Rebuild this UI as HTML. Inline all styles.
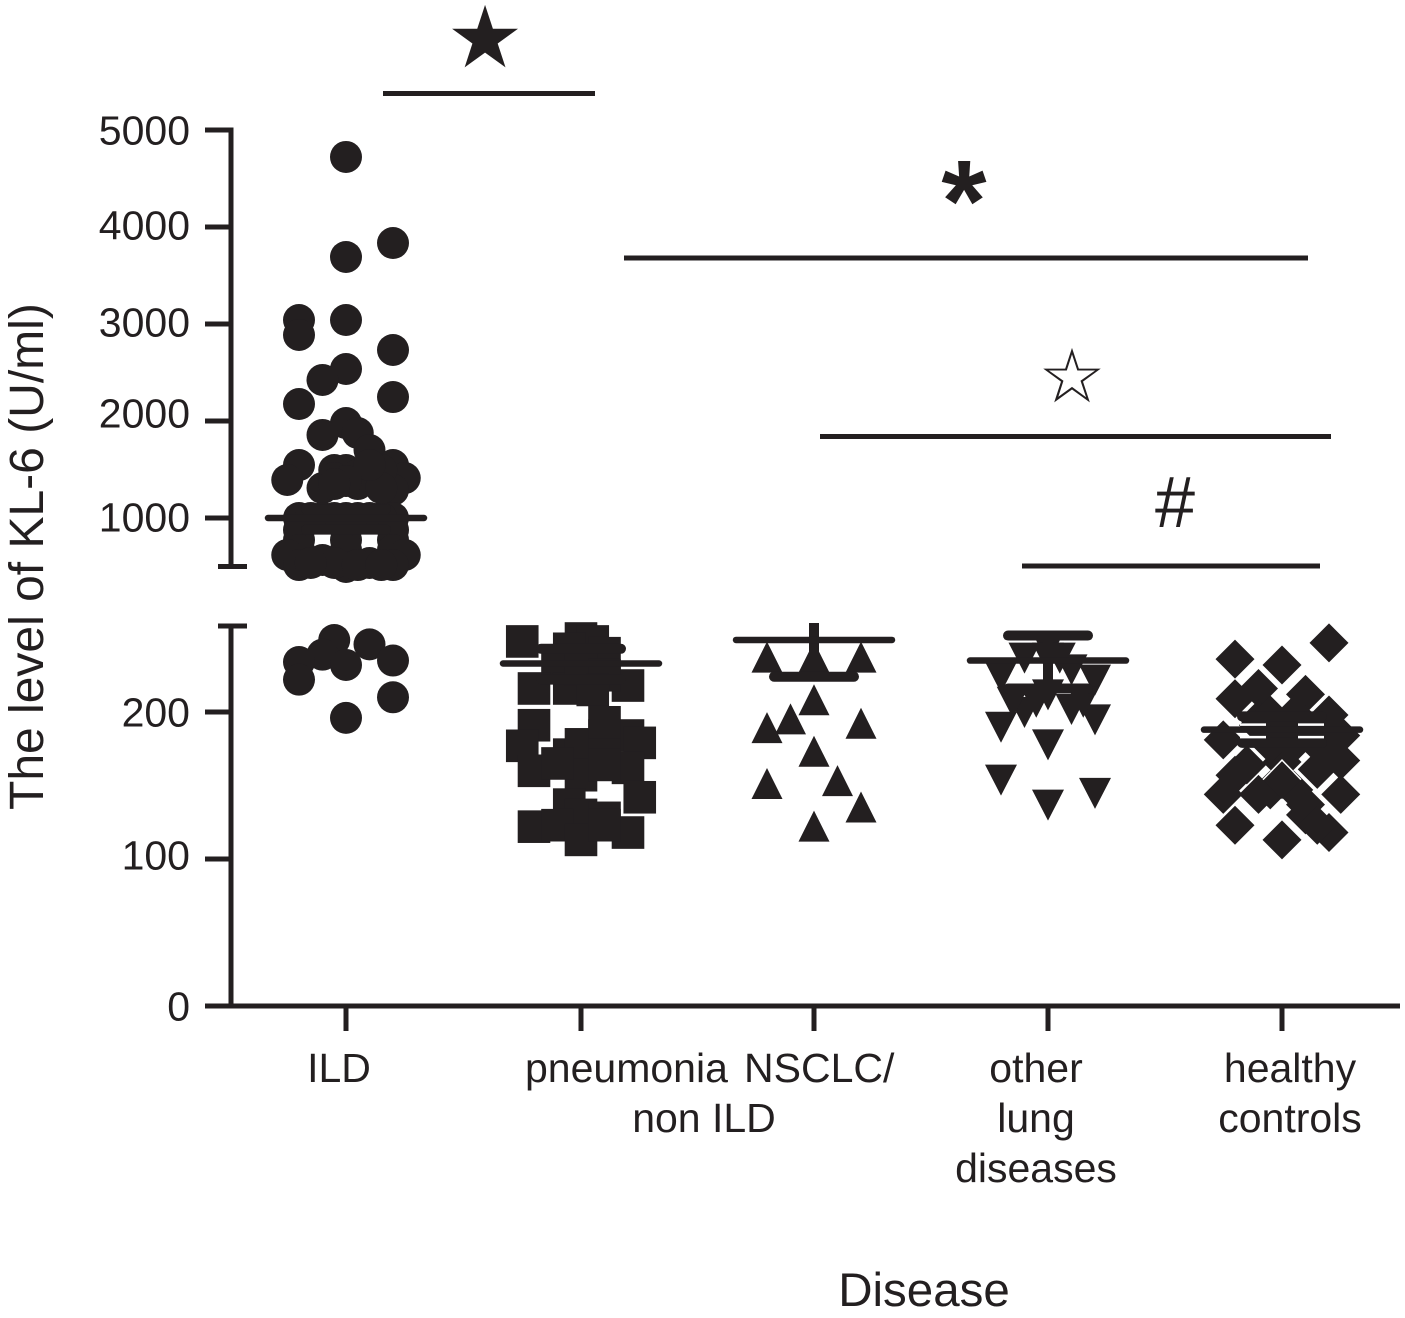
<!DOCTYPE html>
<html lang="en">
<head>
<meta charset="utf-8">
<title>KL-6 level by disease</title>
<style>
html,body{margin:0;padding:0;background:#fff;}
svg{display:block;}
text{font-family:"Liberation Sans",sans-serif;fill:#231f20;}
</style>
</head>
<body>
<svg id="chart" xmlns="http://www.w3.org/2000/svg" width="1405" height="1318" viewBox="0 0 1405 1318">
  <rect width="1405" height="1318" fill="#ffffff"/>
  <g id="axes"></g>
  <g id="marks"></g>
  <g id="summary"></g>

  <text transform="translate(43,810) rotate(-90)" font-size="48">The level of KL-6 (U/ml)</text>
  <text x="924" y="1306" font-size="47.5" text-anchor="middle">Disease</text>

  <text x="339" y="1082" font-size="41" text-anchor="middle">ILD</text>
  <text x="525" y="1082" font-size="41">pneumonia</text>
  <text x="744" y="1082" font-size="41">NSCLC/</text>
  <text x="704" y="1132" font-size="41" text-anchor="middle">non ILD</text>
  <text font-size="41" text-anchor="middle"><tspan x="1036" y="1082">other</tspan><tspan x="1036" y="1132">lung</tspan><tspan x="1036" y="1182">diseases</tspan></text>
  <text font-size="41" text-anchor="middle"><tspan x="1290" y="1082">healthy</tspan><tspan x="1290" y="1132">controls</tspan></text>

  <line x1="383" x2="595" y1="93.5" y2="93.5" stroke="#231f20" stroke-width="5"/>
  <line x1="624" x2="1308" y1="258" y2="258" stroke="#231f20" stroke-width="5"/>
  <line x1="820" x2="1331" y1="436.5" y2="436.5" stroke="#231f20" stroke-width="5"/>
  <line x1="1022" x2="1320" y1="566" y2="566" stroke="#231f20" stroke-width="5"/>

  <text x="485" y="67" font-size="86" text-anchor="middle" style="font-family:'DejaVu Sans',sans-serif">★</text>
  <text x="964" y="241" font-size="116" font-weight="bold" text-anchor="middle">*</text>
  <text x="1072" y="402" font-size="75" text-anchor="middle" style="font-family:'DejaVu Sans',sans-serif">☆</text>
  <text x="1175" y="527" font-size="72" text-anchor="middle">#</text>
</svg>
<script>
// ---- chart data ----
const categories = ["ILD", "pneumonia", "NSCLC/non ILD", "other lung diseases", "healthy controls"];
const yTickValues = [0, 100, 200, 1000, 2000, 3000, 4000, 5000];
const yTickLabels = ["0", "100", "200", "1000", "2000", "3000", "4000", "5000"];

const ildValues = [4722,3835,3691,3041,3041,2887,2732,2536,2423,2247,2175,1979,1856,1876,1701,1546,1392,1495,1546,1412,1309,1392,1495,1289,1443,1000,1000,1000,1000,1000,1000,1000,1000,1000,773,773,773,876,876,876,670,670,670,619,619,515,515,567,495,536,536,515,536,515,1412,1350,1495,1309,1546,1381,1350,249,246,239,234,235,232,222,210,196];
const ildSlots  = [0,4,0,-4,0,-4,4,0,-2,4,-4,0,-2,1,2,-4,-5,0,4,5,-2,2,-1,4,1,-4,-2,0,2,4,-1,1,-3,3,-4,0,4,-4,4,0,-4,0,4,-5,5,-4,4,-2,0,2,-1,1,-3,3,-1,1,3,3,2,0,-1,-1,2,-2,-4,4,0,-4,4,0];

const pneumoniaValues = [248,250,248,243,240,230,218,216,216,229,225,215,191,177,160,171,178,184,184,179,162,157,165,142,137,130,128,122,123,118,113,123,171,193,164];
const pneumoniaSlots  = [-5,0,1,-1,2,-2,4,-4,-1,0,2,1,-4,-5,-4,-1,0,2,4,5,4,0,-2,5,-1,0,2,-4,-2,4,0,2,2,2,2];

const nsclcValues = [237,237,237,208,195,189,192,173,151,153,135,122];
const nsclcSlots  = [-4,0,4,0,-2,-4,4,0,-4,2,4,0];

const otherValues = [224,237,244,229,222,200,207,212,202,195,190,178,154,137,145,237,237,207,207];
const otherSlots  = [-4,-2,0,2,4,-2,-1,0,2,4,-4,0,-4,0,4,1,0,-3,3];

const healthyValues = [247,236,232,216,209,212,198,184,181,191,191,181,167,164,157,144,166,147,144,147,137,171,144,130,118,123,113,123,195,178,198,198,178,178,161,154];
const healthySlots  = [4,-4,0,-2,-4,2,4,5,-5,-2,2,0,5,-3,-4,-5,0,-1,-2,1,2,4,5,2,4,-4,0,3,-2,3,-1,1,-1,1,3,0];

const meanValues = [1000, 233, 249, 235, 188];
const upperValues = [1090, 243, 262, 252, 197];
const lowerValues = [880, 222, 224, 216, 179];
</script>
<script>
// ---- axis functions ----
const INK = "#231f20";
const SVGNS = "http://www.w3.org/2000/svg";
const centers = [346, 581, 814, 1048, 1282];
const slotStep = 11.75;
const breakValue = 258;
const breakTopY = 623;

function yScale(v) {
  if (v <= breakValue) return 1006 - v * 1.47;
  if (v < 400) return breakTopY;
  return 518 - (v - 1000) * 0.097;
}
function xScale(catIndex, slot) {
  return centers[catIndex] + slot * slotStep;
}
function make(tag, attrs, parent) {
  const el = document.createElementNS(SVGNS, tag);
  for (const k in attrs) el.setAttribute(k, attrs[k]);
  parent.appendChild(el);
  return el;
}

// ---- axes ----
const axes = document.getElementById("axes");
const axisStyle = {stroke: INK, "stroke-width": 5};

const yUpper = make("line", Object.assign({x1: 231, x2: 231, y1: yScale(5000) - 2.5, y2: yScale(500) + 2.5}, axisStyle), axes);



const yLower = make("line", Object.assign({x1: 231, x2: 231, y1: 624, y2: yScale(0)}, axisStyle), axes);



const xAxis = make("line", Object.assign({x1: 205, x2: 1400, y1: yScale(0), y2: yScale(0)}, axisStyle), axes);



const breakLow = make("line", Object.assign({x1: 218, x2: 247, y1: yScale(500), y2: yScale(500)}, axisStyle), axes);



const breakHigh = make("line", Object.assign({x1: 218, x2: 247, y1: 626, y2: 626}, axisStyle), axes);



const tickLabelNudge = {100: -4, 2000: -8, 3000: -2, 4000: -2, 1000: -1};
yTickValues.forEach(function (v, i) {
  const y = yScale(v);
  const tick = make("line", Object.assign({x1: 205, x2: 231, y1: y, y2: y}, axisStyle), axes);
  
  
  const label = make("text", {x: 190, y: y + 14.5 + (tickLabelNudge[v] || 0), "font-size": 41, "text-anchor": "end"}, axes);
  label.textContent = yTickLabels[i];
  
  
});

categories.forEach(function (c, i) {
  const x = xScale(i, 0);
  const tick = make("line", Object.assign({x1: x, x2: x, y1: 1006, y2: 1031}, axisStyle), axes);
  
  
});

// ---- marks ----
const marks = document.getElementById("marks");
function drawCircle(x, y) { return make("circle", {cx: x, cy: y, r: 16, fill: INK}, marks); }
function drawSquare(x, y) { return make("rect", {x: x - 16.3, y: y - 16.3, width: 32.6, height: 32.6, fill: INK}, marks); }
function poly(points) { return make("polygon", {points: points.map(function (p) { return p.join(","); }).join(" "), fill: INK}, marks); }
function drawUp(x, y) { return poly([[x, y - 16], [x + 15.5, y + 15], [x - 15.5, y + 15]]); }
function drawDown(x, y) { return poly([[x - 16, y - 15], [x + 16, y - 15], [x, y + 16]]); }
function drawDiamond(x, y) { return poly([[x, y - 19.5], [x + 19.5, y], [x, y + 19.5], [x - 19.5, y]]); }

function plotSeries(catIndex, values, slots, draw) {
  values.forEach(function (v, i) {
    const el = draw(xScale(catIndex, slots[i]), yScale(v));
    
    
  });
}
plotSeries(0, ildValues, ildSlots, drawCircle);
plotSeries(1, pneumoniaValues, pneumoniaSlots, drawSquare);
plotSeries(2, nsclcValues, nsclcSlots, drawUp);
plotSeries(3, otherValues, otherSlots, drawDown);
plotSeries(4, healthyValues, healthySlots, drawDiamond);

// white seam along the top of the last healthy-controls diamond
const seamX = xScale(4, 0);
const seamY = yScale(healthyValues[healthyValues.length - 1]);
const seam = make("polyline", {points: [[seamX - 19, seamY], [seamX, seamY - 19.5], [seamX + 19, seamY]].map(function (p) { return p.join(","); }).join(" "), fill: "none", stroke: "#ffffff", "stroke-width": 1.5}, marks);



// ---- mean lines and error bars ----
const summary = document.getElementById("summary");
categories.forEach(function (c, i) {
  const x = xScale(i, 0);
  const m = yScale(meanValues[i]);
  const u = yScale(upperValues[i]);
  const l = yScale(lowerValues[i]);
  const stem = make("line", {x1: x, x2: x, y1: u, y2: l, stroke: INK, "stroke-width": 10}, summary);
  
  
  const mean = make("line", {x1: x - 78, x2: x + 78, y1: m, y2: m, stroke: INK, "stroke-width": 6.5, "stroke-linecap": "round"}, summary);
  
  
  const lowCap = make("line", {x1: x - 40, x2: x + 40, y1: l, y2: l, stroke: INK, "stroke-width": 10, "stroke-linecap": "round"}, summary);
  
  
  if (upperValues[i] <= breakValue || upperValues[i] >= 500) {
    const highCap = make("line", {x1: x - 40, x2: x + 40, y1: u, y2: u, stroke: INK, "stroke-width": 10, "stroke-linecap": "round"}, summary);
    
    
  }
});

// white slivers either side of the healthy-controls mean line
const hx = xScale(4, 0);
const hm = yScale(meanValues[4]);
[-5, 7.5].forEach(function (dy) {
  [-1, 1].forEach(function (side) {
    const gap = make("line", {x1: hx + side * 16, x2: hx + side * 42, y1: hm + dy, y2: hm + dy, stroke: "#ffffff", "stroke-width": 2.5}, summary);
    
    
  });
});
</script>
</body>
</html>
